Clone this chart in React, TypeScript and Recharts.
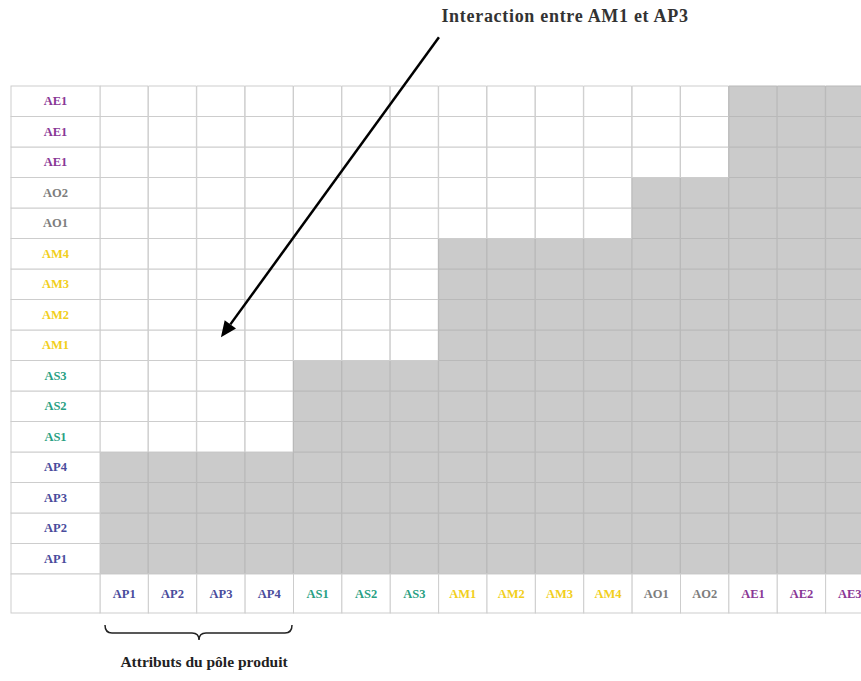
import { Bar, BarChart, Cell, ReferenceDot, XAxis, YAxis } from "recharts";

// column attributes (x axis, left to right)
const columnLabels = [
  "AP1", "AP2", "AP3", "AP4",
  "AS1", "AS2", "AS3",
  "AM1", "AM2", "AM3", "AM4",
  "AO1", "AO2",
  "AE1", "AE2", "AE3",
];

// row attributes (y axis, bottom to top) — the source repeats AE1
const rowLabels = [
  "AP1", "AP2", "AP3", "AP4",
  "AS1", "AS2", "AS3",
  "AM1", "AM2", "AM3", "AM4",
  "AO1", "AO2",
  "AE1", "AE1", "AE1",
];

const groups = ["AP", "AS", "AM", "AO", "AE"];
const groupColors: Record<string, string> = {
  AP: "#4a4c9c",
  AS: "#2a9f83",
  AM: "#f2cf1d",
  AO: "#7d7d7d",
  AE: "#8a3896",
};

const title = "Interaction entre AM1 et AP3";
const braceLabel = "Attributs du pôle produit";

const groupIndex = (label: string) => groups.indexOf(label.slice(0, 2));

const rowKeys = rowLabels.map((_, i) => `r${i}`);
const data = columnLabels.map((name) => {
  const row: Record<string, string | number> = { name };
  rowKeys.forEach((k) => (row[k] = 1));
  return row;
});

const GRAY = "#cbcbcb";
const LINE = "#cdcdcd";
const LINE_DARK = "#b9b9b9";
const FONT = "'Liberation Serif', 'DejaVu Serif', serif";

const LEFT = 11;
const Y_AXIS_W = 89;
const X_AXIS_H = 39;
const TICK_SIZE = 12.5;

function YTick(props: any) {
  const { y, payload, index } = props;
  const label = rowLabels[Math.floor(payload.value)];
  const h = 30.5;
  return (
    <g>
      <rect x={LEFT} y={y - h / 2} width={Y_AXIS_W} height={h} fill="#fff" stroke={LINE} />
      {index === 0 && (
        <rect x={LEFT} y={y + h / 2} width={Y_AXIS_W} height={X_AXIS_H} fill="#fff" stroke={LINE} />
      )}
      <text
        x={LEFT + Y_AXIS_W / 2}
        y={y}
        dy={4}
        textAnchor="middle"
        fontFamily={FONT}
        fontWeight="bold"
        fontSize={TICK_SIZE}
        fill={groupColors[label.slice(0, 2)]}
      >
        {label}
      </text>
    </g>
  );
}

function XTick(props: any) {
  const { x, payload } = props;
  const label = String(payload.value);
  const w = 48.375;
  return (
    <g>
      <rect x={x - w / 2} y={574} width={w} height={X_AXIS_H} fill="#fff" stroke={LINE} />
      <text
        x={x}
        y={574 + X_AXIS_H / 2}
        dy={4}
        textAnchor="middle"
        fontFamily={FONT}
        fontWeight="bold"
        fontSize={TICK_SIZE}
        fill={groupColors[label.slice(0, 2)]}
      >
        {label}
      </text>
    </g>
  );
}

function Arrow(props: any) {
  const { cx, cy } = props;
  const sx = cx + 218;
  const sy = cy - 300;
  const ang = Math.atan2(cy - sy, cx - sx);
  const len = 16;
  const wid = 7;
  const bx = cx - len * Math.cos(ang);
  const by = cy - len * Math.sin(ang);
  const px = -Math.sin(ang) * wid;
  const py = Math.cos(ang) * wid;
  return (
    <g>
      <line x1={sx} y1={sy} x2={bx} y2={by} stroke="#000" strokeWidth={2.5} />
      <polygon points={`${cx},${cy} ${bx + px},${by + py} ${bx - px},${by - py}`} fill="#000" />
    </g>
  );
}

export default function App() {
  return (
    <div style={{ position: "absolute", left: 0, top: 0, width: 861, height: 681, overflow: "hidden", background: "#fff" }}>
      <BarChart
        width={880}
        height={681}
        data={data}
        margin={{ top: 86, right: 6, left: LEFT, bottom: 68 }}
        barCategoryGap={0}
        barGap={0}
      >
        <XAxis
          dataKey="name"
          height={X_AXIS_H}
          axisLine={false}
          tickLine={false}
          interval={0}
          tick={<XTick />}
        />
        <YAxis
          type="number"
          domain={[0, 16]}
          ticks={rowLabels.map((_, i) => i + 0.5)}
          width={Y_AXIS_W}
          axisLine={false}
          tickLine={false}
          interval={0}
          tick={<YTick />}
        />
        {rowKeys.map((k, ri) => (
          <Bar key={k} dataKey={k} stackId="m" isAnimationActive={false}>
            {columnLabels.map((c, ci) => {
              const shaded = groupIndex(rowLabels[ri]) <= groupIndex(c);
              return (
                <Cell
                  key={ci}
                  fill={shaded ? GRAY : "#fff"}
                  stroke={shaded ? LINE_DARK : LINE}
                  strokeWidth={1}
                />
              );
            })}
          </Bar>
        ))}
        <ReferenceDot x="AP3" y={7.76} r={0} shape={<Arrow />} ifOverflow="visible" />
      </BarChart>
      <svg width={861} height={681} style={{ position: "absolute", left: 0, top: 0, pointerEvents: "none" }}>
        <text x={565} y={22} textAnchor="middle" fontFamily={FONT} fontWeight="bold" fontSize={18} letterSpacing={0.7} fill="#333">
          {title}
        </text>
        <path
          d="M105,625 Q105,633 112,633 L192,633 Q199,633 199,640 Q199,633 206,633 L285,633 Q292,633 292,625"
          fill="none"
          stroke="#222"
          strokeWidth={1.5}
        />
        <text x={204} y={667} textAnchor="middle" fontFamily={FONT} fontWeight="bold" fontSize={15.5} fill="#222">
          {braceLabel}
        </text>
      </svg>
    </div>
  );
}
